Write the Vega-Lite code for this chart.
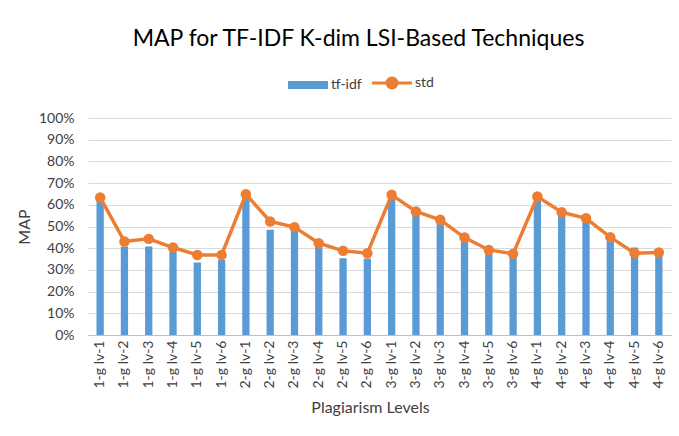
{
  "$schema": "https://vega.github.io/schema/vega-lite/v6.json",
  "autosize": {"type": "none"},
  "width": 583,
  "height": 217,
  "padding": {"left": 88, "top": 118, "right": 8, "bottom": 101},
  "background": "white",
  "title": {
    "text": "MAP for TF-IDF K-dim LSI-Based Techniques",
    "font": "Lato",
    "fontSize": 23,
    "fontWeight": "normal",
    "color": "#000000",
    "dx": -21,
    "offset": 25
  },
  "data": {
    "values": [
      {"level": "1-g lv-1", "tfidf": 0.623, "std": 0.634},
      {"level": "1-g lv-2", "tfidf": 0.408, "std": 0.431},
      {"level": "1-g lv-3", "tfidf": 0.408, "std": 0.443},
      {"level": "1-g lv-4", "tfidf": 0.385, "std": 0.403},
      {"level": "1-g lv-5", "tfidf": 0.334, "std": 0.369},
      {"level": "1-g lv-6", "tfidf": 0.346, "std": 0.369},
      {"level": "2-g lv-1", "tfidf": 0.631, "std": 0.649},
      {"level": "2-g lv-2", "tfidf": 0.485, "std": 0.523},
      {"level": "2-g lv-3", "tfidf": 0.48, "std": 0.497},
      {"level": "2-g lv-4", "tfidf": 0.408, "std": 0.423},
      {"level": "2-g lv-5", "tfidf": 0.354, "std": 0.388},
      {"level": "2-g lv-6", "tfidf": 0.352, "std": 0.377},
      {"level": "3-g lv-1", "tfidf": 0.631, "std": 0.646},
      {"level": "3-g lv-2", "tfidf": 0.554, "std": 0.569},
      {"level": "3-g lv-3", "tfidf": 0.515, "std": 0.531},
      {"level": "3-g lv-4", "tfidf": 0.431, "std": 0.449},
      {"level": "3-g lv-5", "tfidf": 0.377, "std": 0.392},
      {"level": "3-g lv-6", "tfidf": 0.369, "std": 0.374},
      {"level": "4-g lv-1", "tfidf": 0.623, "std": 0.638},
      {"level": "4-g lv-2", "tfidf": 0.554, "std": 0.566},
      {"level": "4-g lv-3", "tfidf": 0.523, "std": 0.538},
      {"level": "4-g lv-4", "tfidf": 0.438, "std": 0.451},
      {"level": "4-g lv-5", "tfidf": 0.403, "std": 0.377},
      {"level": "4-g lv-6", "tfidf": 0.369, "std": 0.38}
    ]
  },
  "encoding": {
    "x": {
      "field": "level",
      "type": "nominal",
      "sort": null,
      "scale": {"paddingInner": 0.7, "paddingOuter": 0.35},
      "axis": {
        "title": "Plagiarism Levels",
        "titleFont": "Lato",
        "titleFontSize": 16,
        "titleFontWeight": "normal",
        "titleColor": "#404040",
        "titleX": 282,
        "titlePadding": 11,
        "labelAngle": -90,
        "labelFont": "Lato",
        "labelFontSize": 14,
        "labelColor": "#404040",
        "labelPadding": 5,
        "labelOverlap": false,
        "ticks": false,
        "domainColor": "#BFBFBF",
        "domainWidth": 1
      }
    }
  },
  "layer": [
    {
      "mark": {"type": "bar", "color": "#5B9BD5"},
      "encoding": {
        "y": {
          "field": "tfidf",
          "type": "quantitative",
          "scale": {"domain": [0, 1]},
          "axis": {
            "title": "MAP",
            "titleFont": "Lato",
            "titleFontSize": 16,
            "titleFontWeight": "normal",
            "titleColor": "#404040",
            "titlePadding": 6,
            "format": ".0%",
            "values": [0, 0.1, 0.2, 0.3, 0.4, 0.5, 0.6, 0.7, 0.8, 0.9, 1],
            "labelOverlap": false,
            "labelFont": "Lato",
            "labelFontSize": 14,
            "labelColor": "#404040",
            "labelPadding": 14,
            "ticks": false,
            "domain": false,
            "gridColor": "#D9D9D9",
            "gridWidth": 1
          }
        },
        "color": {
          "datum": "tf-idf",
          "scale": {"domain": ["tf-idf", "std"], "range": ["#5B9BD5", "#ED7D31"]},
          "legend": {
            "orient": "none",
            "legendX": 213,
            "legendY": -42,
            "direction": "horizontal",
            "title": null,
            "symbolSize": 1600,
            "labelFont": "Lato",
            "labelFontSize": 14,
            "labelColor": "#404040",
            "labelOffset": 16,
            "columnPadding": 4,
            "encode": {
              "symbols": {
                "update": {
                  "shape": {"signal": "datum.value == 'std' ? 'M-1,0H1M-0.25,0A0.25,0.25 0 1,0 0.25,0A0.25,0.25 0 1,0 -0.25,0Z' : 'M-1,-0.2H1V0.2H-1Z'"},
                  "fill": {"signal": "datum.value == 'std' ? '#ED7D31' : '#5B9BD5'"},
                  "stroke": {"signal": "datum.value == 'std' ? '#ED7D31' : '#5B9BD5'"},
                  "strokeWidth": {"signal": "datum.value == 'std' ? 3 : 0"},
                  "opacity": {"value": 1},
                  "fillOpacity": {"value": 1}
                }
              }
            }
          }
        }
      }
    },
    {
      "mark": {"type": "line", "color": "#ED7D31", "strokeWidth": 3.5, "point": {"filled": true, "size": 110, "color": "#ED7D31"}},
      "encoding": {
        "y": {
          "field": "std",
          "type": "quantitative",
          "scale": {"domain": [0, 1]},
          "axis": {
            "title": "MAP",
            "titleFont": "Lato",
            "titleFontSize": 16,
            "titleFontWeight": "normal",
            "titleColor": "#404040",
            "titlePadding": 6,
            "format": ".0%",
            "values": [0, 0.1, 0.2, 0.3, 0.4, 0.5, 0.6, 0.7, 0.8, 0.9, 1],
            "labelOverlap": false,
            "labelFont": "Lato",
            "labelFontSize": 14,
            "labelColor": "#404040",
            "labelPadding": 14,
            "ticks": false,
            "domain": false,
            "gridColor": "#D9D9D9",
            "gridWidth": 1
          }
        },
        "color": {"datum": "std"}
      }
    }
  ],
  "config": {
    "view": {"stroke": null},
    "font": "Lato"
  }
}
